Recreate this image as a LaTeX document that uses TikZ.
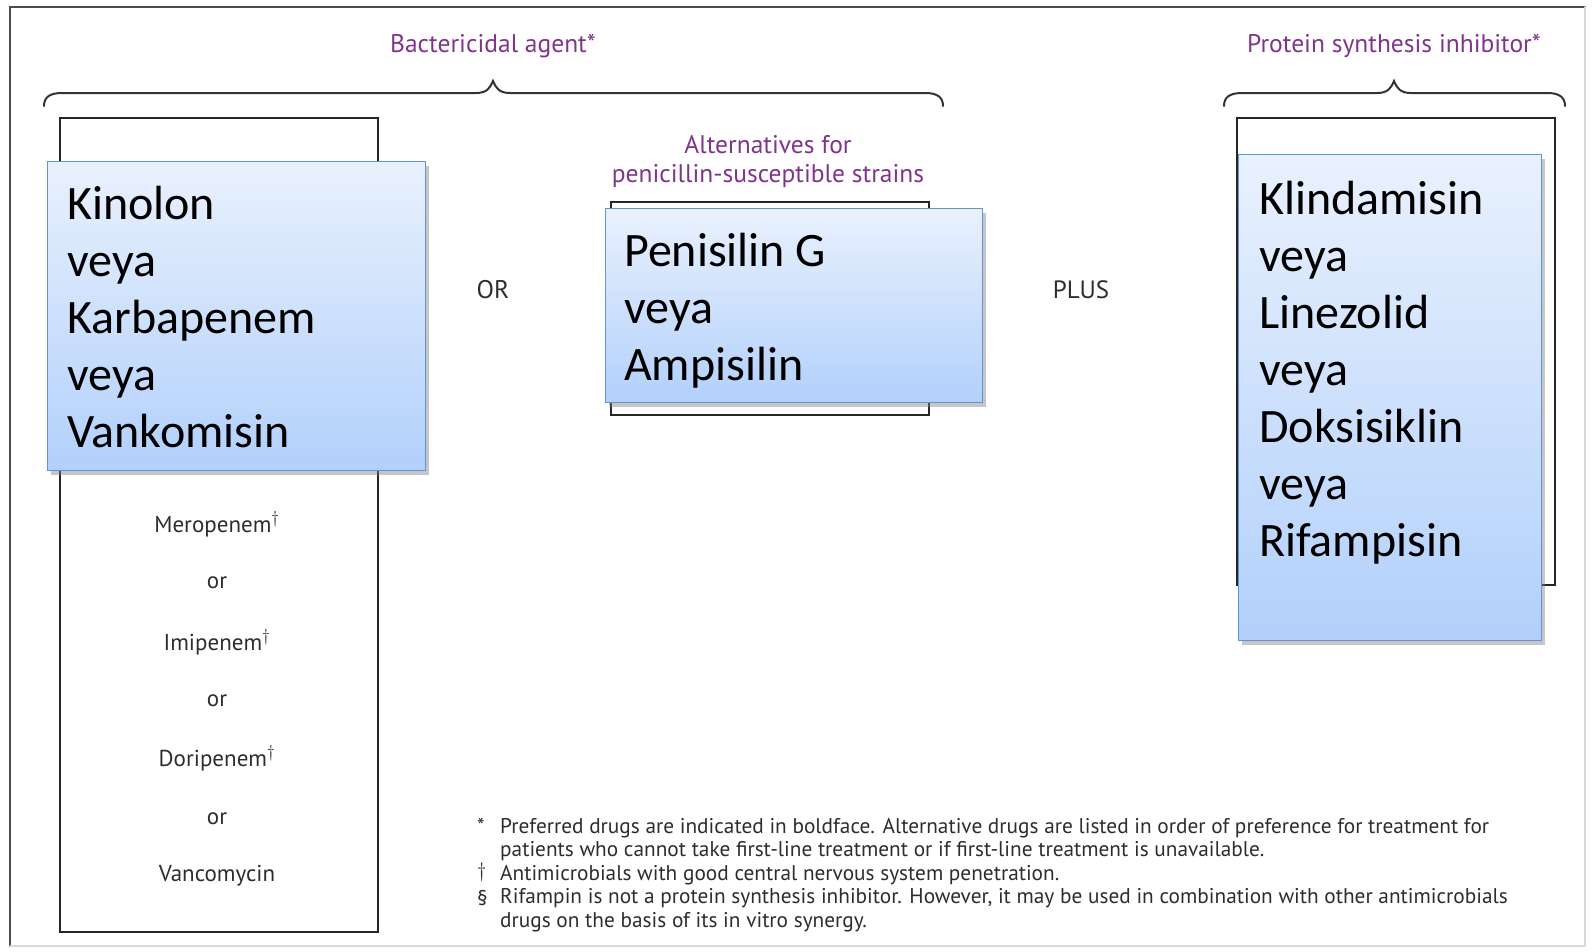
\documentclass[tikz,border=0pt]{standalone}
\usepackage{fontspec}
\setmainfont{Carlito}
\newfontfamily\figfont{PT Sans}
\usetikzlibrary{shadows}
\definecolor{labelpurple}{RGB}{128,52,140}
\definecolor{boxtop}{RGB}{233,241,253}
\definecolor{boxbottom}{RGB}{178,208,251}
\definecolor{boxedge}{RGB}{98,148,212}
\definecolor{figgray}{RGB}{45,45,45}

\begin{document}
\begin{tikzpicture}[x=1pt,y=-1pt,line cap=round,
  tablebox/.style={draw=black!85,line width=2.4pt,minimum width=318pt,anchor=north west,inner sep=0pt},
  bluebox/.style={draw=boxedge,line width=1.4pt,top color=boxtop,bottom color=boxbottom,anchor=north west,inner sep=0pt,
    drop shadow={shadow xshift=3pt,shadow yshift=-4pt,opacity=0.45}},
  drugtxt/.style={font=\fontsize{48}{57}\selectfont,anchor=base west,inner sep=0pt},
  figtxt/.style={font=\figfont\fontsize{23}{27}\selectfont,text=figgray,inner sep=0pt},
  headtxt/.style={font=\figfont\fontsize{25.5}{29}\selectfont,text=labelpurple,inner sep=0pt},
  foottxt/.style={font=\figfont\fontsize{21.3}{23}\selectfont,text=figgray,anchor=west,inner sep=0pt},
  brace/.style={draw=black!80,line width=2pt}]
\useasboundingbox (0,0) rectangle (1593,951);
% frame of the scanned page
\draw[black!70,line width=2.4pt] (10,946) -- (10,7) -- (1585,7);
\draw[black!15,line width=1.5pt] (1585,7) -- (1585,946) -- (10,946);

% group labels and braces
\node[headtxt] (bactlbl) at (493,46) {Bactericidal agent*};
\node[headtxt] (protlbl) at (1394,46) {Protein synthesis inhibitor*};
\draw[brace] (44,106) .. controls (44,97) and (50,93) .. (62,93) -- (476,93)
  .. controls (487,93) and (490,88) .. (493,81) .. controls (496,88) and (499,93) .. (510,93)
  -- (925,93) .. controls (937,93) and (943,97) .. (943,106);
\draw[brace] (1224,106) .. controls (1224,97) and (1230,93) .. (1242,93) -- (1377,93)
  .. controls (1388,93) and (1391,88) .. (1394,81) .. controls (1397,88) and (1400,93) .. (1411,93)
  -- (1547,93) .. controls (1559,93) and (1565,97) .. (1565,106);

% left column
\node[tablebox,minimum height=814pt] (bactbox) at (59,117) {};
\node[figtxt] (mero) at (217,524) {Meropenem$^{\dagger}$};
\node[figtxt] (or1) at (217,583) {or};
\node[figtxt] (imi) at (217,642) {Imipenem$^{\dagger}$};
\node[figtxt] (or2) at (217,701) {or};
\node[figtxt] (dori) at (217,758) {Doripenem$^{\dagger}$};
\node[figtxt] (or3) at (217,819) {or};
\node[figtxt] (vanco) at (217,876) {Vancomycin};
\node[bluebox,minimum width=378pt,minimum height=309pt] (kinobox) at (47,161) {};
\node[drugtxt] (k1) at (67,219) {Kinolon};
\node[drugtxt] (k2) at (67,276) {veya};
\node[drugtxt] (k3) at (67,333) {Karbapenem};
\node[drugtxt] (k4) at (67,390) {veya};
\node[drugtxt] (k5) at (67,447) {Vankomisin};

\node[figtxt,font=\figfont\fontsize{25.5}{29}\selectfont] (orlbl) at (493,290) {OR};

% middle column
\node[headtxt] (alt1) at (768,145) {Alternatives for};
\node[headtxt] (alt2) at (768,176) {penicillin-susceptible strains};
\node[tablebox,minimum height=213pt] (penbox) at (610,201) {};
\node[bluebox,minimum width=377pt,minimum height=194pt] (penblue) at (605,208) {};
\node[drugtxt] (p1) at (624,266) {Penisilin G};
\node[drugtxt] (p2) at (624,323) {veya};
\node[drugtxt] (p3) at (624,380) {Ampisilin};

\node[figtxt,font=\figfont\fontsize{25}{29}\selectfont] (pluslbl) at (1081,290) {PLUS};

% right column
\node[tablebox,minimum height=467pt] (protbox) at (1236,117) {};
\node[bluebox,minimum width=303pt,minimum height=486pt] (protblue) at (1238,154) {};
\node[drugtxt] (r1) at (1259,214) {Klindamisin};
\node[drugtxt] (r2) at (1259,271) {veya};
\node[drugtxt] (r3) at (1259,328) {Linezolid};
\node[drugtxt] (r4) at (1259,385) {veya};
\node[drugtxt] (r5) at (1259,442) {Doksisiklin};
\node[drugtxt] (r6) at (1259,499) {veya};
\node[drugtxt] (r7) at (1259,556) {Rifampisin};

% footnotes
\node[foottxt] (fn1s) at (477,826) {*};
\node[foottxt] (fn1a) at (500,828) {Preferred drugs are indicated in boldface. Alternative drugs are listed in order of preference for treatment for};
\node[foottxt] (fn1b) at (500,851) {patients who cannot take first-line treatment or if first-line treatment is unavailable.};
\node[foottxt] (fn2s) at (477,872) {$\dagger$};
\node[foottxt] (fn2a) at (500,875) {Antimicrobials with good central nervous system penetration.};
\node[foottxt] (fn3s) at (477,898) {\S};
\node[foottxt] (fn3a) at (500,898) {Rifampin is not a protein synthesis inhibitor. However, it may be used in combination with other antimicrobials};
\node[foottxt] (fn3b) at (500,922) {drugs on the basis of its in vitro synergy.};
\end{tikzpicture}
\end{document}
